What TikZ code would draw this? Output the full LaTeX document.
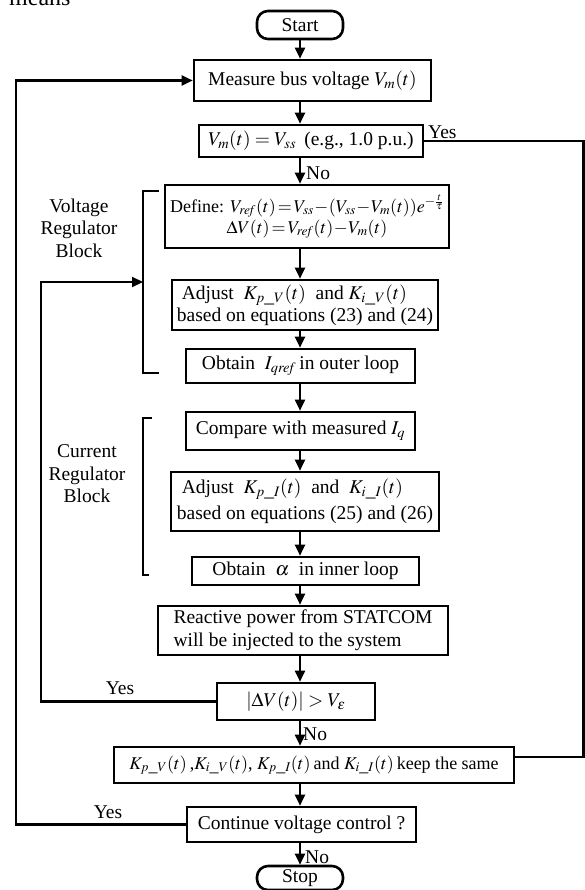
\documentclass[tikz,border=0pt]{standalone}
\usepackage{mathptmx}
\usepackage{fontspec}
\setmainfont{Liberation Serif}
\usetikzlibrary{arrows.meta,calc}
\newcommand{\fs}{\fontsize{19.5}{23}\selectfont}
\newcommand{\fsm}{\fontsize{18}{22}\selectfont}
\tikzset{
  box/.style={draw, line width=2.6pt, rectangle, inner sep=1pt, align=center, font=\fs},
  term/.style={draw, line width=2.6pt, rectangle, rounded corners=11pt, inner sep=1pt, font=\fs},
  conn/.style={line width=2.2pt},
  arr/.style={conn, -{Triangle[length=11pt,width=10pt]}},
  lbl/.style={font=\fs, inner sep=0pt},
}
\begin{document}
\begin{tikzpicture}[x=1pt,y=-1pt]
\useasboundingbox (0,0) rectangle (585,890);
\clip (0,0) rectangle (585,890);

\node[font=\fontsize{24}{26}\selectfont, anchor=base west, inner sep=0pt] (means) at (9,6) {means};

\coordinate (sp) at (300,0);
\coordinate (ol) at (16,0);
\coordinate (il) at (41,0);
\coordinate (rx) at (583.5,0);

\node[term, minimum width=86pt, minimum height=28pt] (start) at (300,25) {Start};
\node[box, minimum width=237pt, minimum height=41pt] (measure) at (312.5,80.5) {Measure bus voltage $V_m(t)$};
\node[box, minimum width=224pt, minimum height=32pt] (vm) at (311,141) {$V_m(t)=V_{ss}$\ \,(e.g., 1.0 p.u.)};
\node[box, minimum width=284pt, minimum height=63pt, font=\fsm] (define) at (307,216.5)
  {Define: $V_{\mathit{ref}}(t)\!=\!V_{ss}\!-\!(V_{ss}\!-\!V_m(t))e^{-\frac{t}{\tau}}$\\[-1pt] $\Delta V(t)\!=\!V_{\mathit{ref}}(t)\!-\!V_m(t)$};
\node[box, minimum width=266pt, minimum height=50pt, align=left] (adjv) at (305,305)
  {\ Adjust\ \ $K_{p\_V}(t)$\ \ and $K_{i\_V}(t)$\\[-1pt]based on equations (23) and (24)};
\node[box, minimum width=229pt, minimum height=34pt] (iqref) at (300.5,366) {Obtain\ \ $I_{\mathit{qref}}$\,in outer loop};
\node[box, minimum width=229pt, minimum height=38pt] (compare) at (300.5,431) {Compare with measured $I_q$};
\node[box, minimum width=268pt, minimum height=59pt, align=left] (adji) at (305,501.5)
  {\ Adjust\ \ $K_{p\_I}(t)$\ \ and\ \ $K_{i\_I}(t)$\\[3pt]based on equations (25) and (26)};
\node[box, minimum width=227pt, minimum height=28pt] (alpha) at (305.5,571) {Obtain\ \ $\alpha$\ \ in inner loop};
\node[box, minimum width=290pt, minimum height=49pt, align=left] (react) at (303,630.5)
  {Reactive power from STATCOM\\ will be injected to the system};
\node[box, minimum width=158pt, minimum height=37pt] (dv) at (296,701.5) {$\left|\Delta V(t)\right| > V_{\varepsilon}$};
\node[box, minimum width=400pt, minimum height=36pt, font=\fsm] (keep) at (314,765)
  {$K_{p\_V}(t)$\,,$K_{i\_V}(t)$, $K_{p\_I}(t)$\,and $K_{i\_I}(t)$\,keep the same};
\node[box, minimum width=229pt, minimum height=35pt] (cont) at (301.5,824.5) {Continue voltage control ?};
\node[term, minimum width=86pt, minimum height=24pt] (stop) at (300,878) {Stop};

% spine arrows
\draw[arr] (start.south) -- (start.south |- measure.north);
\draw[arr] (measure.south -| sp) -- (vm.north -| sp);
\draw[arr] (vm.south -| sp) -- (define.north -| sp);
\draw[arr] (define.south -| sp) -- (adjv.north -| sp);
\draw[arr] (adjv.south -| sp) -- (iqref.north -| sp);
\draw[arr] (iqref.south -| sp) -- (compare.north -| sp);
\draw[arr] (compare.south -| sp) -- (adji.north -| sp);
\draw[arr] (adji.south -| sp) -- (alpha.north -| sp);
\draw[arr] (alpha.south -| sp) -- (react.north -| sp);
\draw[arr] (react.south -| sp) -- (dv.north -| sp);
\draw[arr] (dv.south -| sp) -- (keep.north -| sp);
\draw[arr] (keep.south -| sp) -- (cont.north -| sp);
\draw[arr] (cont.south -| sp) -- (stop.north -| sp);

% brackets
\coordinate (vb1) at (159,191);
\coordinate (vb2) at (143,191);
\coordinate (vb3) at (143,373);
\coordinate (vb4) at (159,373);
\coordinate (vbin) at (143,282);
\draw[conn] (vb1) -- (vb2) -- (vb3) -- (vb4);
\coordinate (cb1) at (152,418);
\coordinate (cb2) at (143,418);
\coordinate (cb3) at (143,575);
\coordinate (cb4) at (149,575);
\draw[conn] (cb1) -- (cb2) -- (cb3) -- (cb4);

% feedback loops
\draw[arr] (cont.west) -- (cont.west -| ol) -- (measure.west -| ol) -- (measure.west);
\draw[arr] (dv.west) -- (dv.west -| il) -- (vbin -| il) -- (vbin);

% right Yes branch
\coordinate (keepln) at (514,757);
\draw[conn] (vm.east) -- (vm.east -| rx) -- (keepln -| rx) -- (keepln);

% labels
\node[lbl, anchor=south west] (yes1) at (428,139) {Yes};
\node[lbl, anchor=west] (no1) at (306,173) {No};
\node[lbl] (yes2) at (120,688) {Yes};
\node[lbl, anchor=west] (no2) at (303,734) {No};
\node[lbl] (yes3) at (108,812) {Yes};
\node[lbl, anchor=west] (no3) at (305,857) {No};
\node[lbl, align=center, font=\fontsize{19.5}{22.5}\selectfont] (vrb) at (79,228) {Voltage\\Regulator\\Block};
\node[lbl, align=center, font=\fontsize{19.5}{22.5}\selectfont] (crb) at (87,474) {Current\\Regulator\\Block};
\end{tikzpicture}
\end{document}
